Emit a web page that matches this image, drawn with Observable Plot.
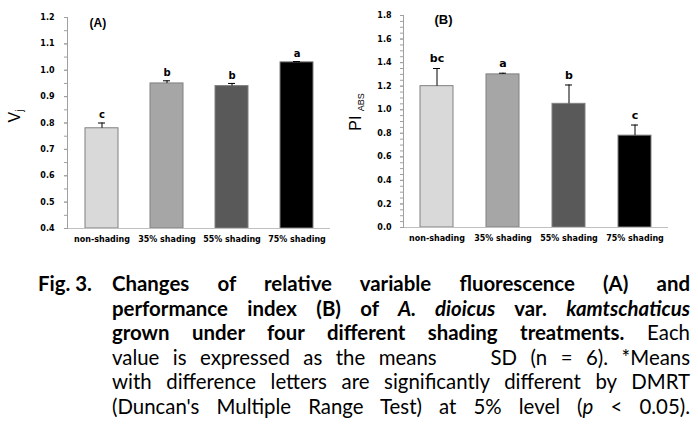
<!DOCTYPE html>
<html>
<head>
<meta charset="utf-8">
<script src="https://cdn.jsdelivr.net/npm/d3@7"></script>
<script src="https://cdn.jsdelivr.net/npm/@observablehq/plot@0.6"></script>
<style>
  html, body { margin: 0; padding: 0; background: #fff; }
  #wrap { position: relative; width: 698px; height: 430px; overflow: hidden; background: #fff; }
  #chartA { position: absolute; left: 0; top: 0; }
  #chartB { position: absolute; left: 340px; top: 0; }
  .ylab { position: absolute; font-family: "Liberation Sans", Arial, sans-serif; color: #000; white-space: nowrap; transform: translate(-50%, -50%) rotate(-90deg); transform-origin: center; }
  .cap { position: absolute; left: 0; top: 0; font-family: Lato, "DejaVu Sans", sans-serif; font-size: 20.4px; color: #000; }
  .cap .fig { position: absolute; left: 38px; top: 271px; height: 24px; line-height: 24px; font-weight: bold; white-space: nowrap; }
  .cap .line { position: absolute; left: 112px; width: 578px; height: 24px; line-height: 24px; white-space: nowrap; transform-origin: left center; }
  .b { font-weight: bold; }
  .i { font-style: italic; }
</style>
</head>
<body>
<div id="wrap">
  <div id="chartA"></div>
  <div id="chartB"></div>
  <div class="ylab" style="left:15px; top:116px; font-size:16px;">V<sub style="font-size:10px; vertical-align:-3px;">j</sub></div>
  <div class="ylab" style="left:356px; top:112px; font-size:16px;">PI <sub style="font-size:9px; vertical-align:-3px;">ABS</sub></div>
  <div class="cap" id="cap">
    <div class="fig">Fig. 3.</div>
    <div class="line" style="top:271px"><span class="b">Changes of relative variable fluorescence (A) and</span></div>
    <div class="line" style="top:295.5px"><span class="b">performance index (B) of </span><span class="b i">A. dioicus</span><span class="b"> var. </span><span class="b i">kamtschaticus</span></div>
    <div class="line" style="top:320px"><span class="b">grown under four different shading treatments.</span><span> Each</span></div>
    <div class="line" style="top:344.5px"><span>value is expressed as the means &nbsp;&nbsp;&nbsp;SD (n = 6). *Means</span></div>
    <div class="line" style="top:369px"><span>with difference letters are significantly different by DMRT</span></div>
    <div class="line" style="top:393.5px"><span>(Duncan's Multiple Range Test) at 5% level (</span><span class="i">p</span><span> &lt; 0.05).</span></div>
  </div>
</div>
<script>
// ---- data ----
const categories = ["non-shading", "35% shading", "55% shading", "75% shading"];
const vjMean = [0.78, 0.95, 0.94, 1.03];
const vjSD = [0.02, 0.01, 0.01, 0.003];
const vjLetters = ["c", "b", "b", "a"];
const piMean = [1.20, 1.30, 1.05, 0.78];
const piSD = [0.15, 0.01, 0.16, 0.09];
const piLetters = ["bc", "a", "b", "c"];
const barColors = ["#d9d9d9", "#a6a6a6", "#595959", "#000000"];
const vjTicks = [0.4, 0.5, 0.6, 0.7, 0.8, 0.9, 1.0, 1.1, 1.2];
const piTicks = [0.0, 0.2, 0.4, 0.6, 0.8, 1.0, 1.2, 1.4, 1.6, 1.8];

function minorTicks(ticks, step) {
  const out = [];
  const lo = ticks[0], hi = ticks[ticks.length - 1];
  const n = Math.round((hi - lo) / step);
  for (let i = 0; i <= n; i++) out.push(+(lo + i * step).toFixed(3));
  return out;
}

function makeChart(opts) {
  const data = categories.map((c, i) => ({
    cat: c, mean: opts.mean[i], sd: opts.sd[i], letter: opts.letters[i], color: barColors[i]
  }));
  const base = opts.ticks[0];
  const domain = [opts.ticks[0], opts.ticks[opts.ticks.length - 1]];
  return Plot.plot({
    width: opts.width,
    height: 250,
    marginLeft: opts.marginLeft,
    marginRight: opts.marginRight,
    marginTop: opts.marginTop,
    marginBottom: opts.marginBottom,
    style: { fontFamily: "DejaVu Sans, Verdana, sans-serif", background: "white", overflow: "visible", color: "#000" },
    x: { domain: categories, paddingInner: 0.5, paddingOuter: 0.25, axis: null },
    y: { domain, axis: null },
    color: { type: "identity" },
    marks: [
      Plot.barY(data, { x: "cat", y1: () => base, y2: "mean", fill: "color", stroke: "#808080", strokeWidth: 1 }),
      Plot.ruleX(data, { x: "cat", y1: "mean", y2: d => d.mean + d.sd, stroke: "#000", strokeWidth: 1 }),
      Plot.tickY(data, { x: "cat", y: d => d.mean + d.sd, insetLeft: 13, insetRight: 13, stroke: "#000", strokeWidth: 1 }),
      Plot.text(data, { x: "cat", y: d => d.mean + d.sd, text: "letter", dy: opts.letterDy, fontWeight: "bold", fontSize: opts.letterSize, fill: "#000" }),
      Plot.ruleY([base], { stroke: "#c0c0c0", strokeWidth: 1 }),
      Plot.frame({ anchor: "left", stroke: "#a0a0a0" }),
      Plot.axisY({ ticks: minorTicks(opts.ticks, 0.05), tickSize: 3, tickFormat: () => "", stroke: "#a0a0a0", label: null }),
      Plot.axisY({ ticks: opts.ticks, tickSize: 3, tickPadding: opts.tickPad, tickFormat: d => d.toFixed(1), fontWeight: "bold", fontSize: 8, stroke: "#a0a0a0", label: null }),
      Plot.axisX({ tickSize: 0, tickPadding: 8, fontWeight: "bold", fontSize: 8, label: null }),
      Plot.text([opts.panel], { frameAnchor: "top-left", dx: opts.panelDx, dy: opts.panelDy, textAnchor: "start", lineAnchor: "middle", fontWeight: "bold", fontSize: opts.panelSize, fontFamily: "Liberation Sans, Arial, sans-serif", fill: "#000" })
    ]
  });
}

document.getElementById("chartA").appendChild(makeChart({
  mean: vjMean, sd: vjSD, letters: vjLetters, ticks: vjTicks,
  width: 340, marginLeft: 67, marginRight: 10, marginTop: 17, marginBottom: 22,
  tickPad: 10, letterDy: -8, letterSize: 10, panel: "(A)", panelDx: 22, panelDy: 6, panelSize: 12
}));
document.getElementById("chartB").appendChild(makeChart({
  mean: piMean, sd: piSD, letters: piLetters, ticks: piTicks,
  width: 358, marginLeft: 63, marginRight: 30, marginTop: 15, marginBottom: 23,
  tickPad: 9, letterDy: -10, letterSize: 11, panel: "(B)", panelDx: 31, panelDy: 4, panelSize: 13
}));

// justify caption lines to the column width
function justify() {
  document.querySelectorAll(".cap .line").forEach(line => {
    line.style.wordSpacing = "0px";
    line.style.transform = "none";
    const target = line.clientWidth;
    const r = document.createRange();
    r.selectNodeContents(line);
    const w = r.getBoundingClientRect().width;
    const spaces = (line.textContent.match(/[ \u00A0]/g) || []).length;
    const diff = target - w;
    if (diff >= 0 && spaces > 0) {
      line.style.wordSpacing = (diff / spaces) + "px";
    } else if (diff < 0) {
      line.style.transform = "scaleX(" + (target / w) + ")";
    }
  });
}
justify();
if (document.fonts && document.fonts.ready) document.fonts.ready.then(justify);
</script>
</body>
</html>
